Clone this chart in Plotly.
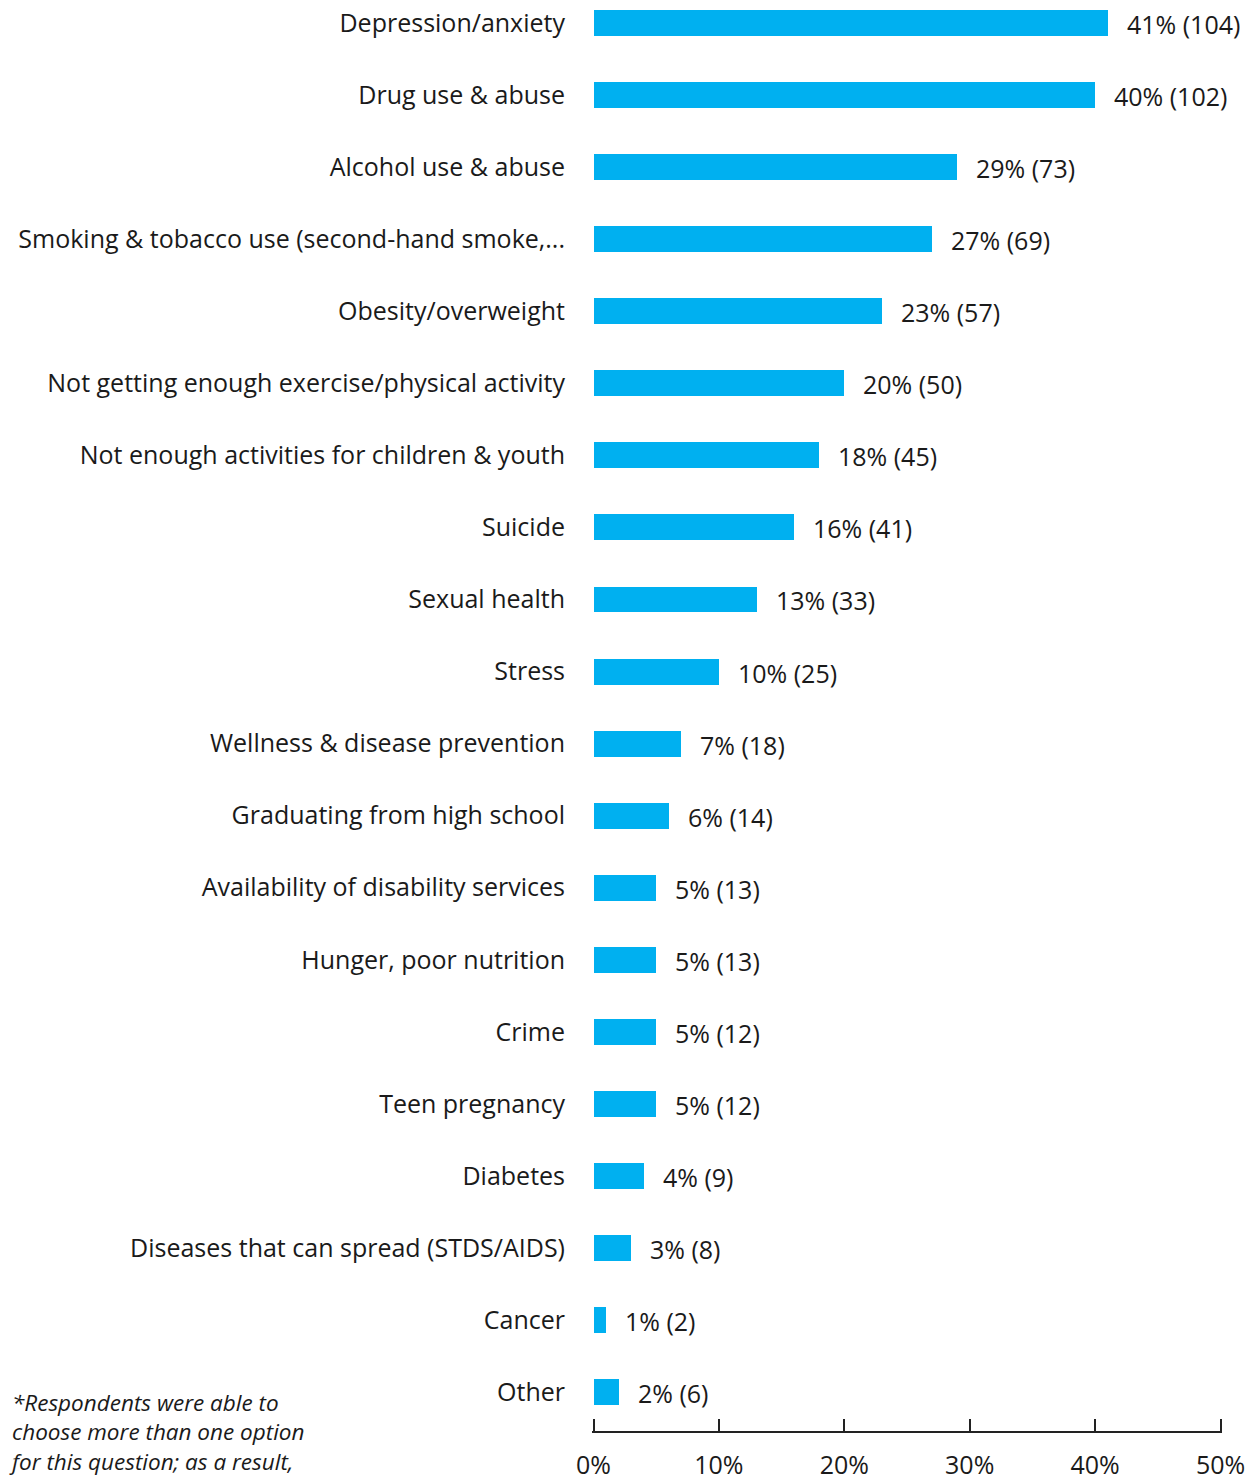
import plotly.graph_objects as go

# Health concerns, listed top to bottom
categories = [
    "Depression/anxiety",
    "Drug use & abuse",
    "Alcohol use & abuse",
    "Smoking & tobacco use (second-hand smoke,...",
    "Obesity/overweight",
    "Not getting enough exercise/physical activity",
    "Not enough activities for children & youth",
    "Suicide",
    "Sexual health",
    "Stress",
    "Wellness & disease prevention",
    "Graduating from high school",
    "Availability of disability services",
    "Hunger, poor nutrition",
    "Crime",
    "Teen pregnancy",
    "Diabetes",
    "Diseases that can spread (STDS/AIDS)",
    "Cancer",
    "Other",
]
percents = [41, 40, 29, 27, 23, 20, 18, 16, 13, 10, 7, 6, 5, 5, 5, 5, 4, 3, 1, 2]
counts = [104, 102, 73, 69, 57, 50, 45, 41, 33, 25, 18, 14, 13, 13, 12, 12, 9, 8, 2, 6]

x_ticks = [0, 10, 20, 30, 40, 50]
x_ticklabels = ["0%", "10%", "20%", "30%", "40%", "50%"]

footnote = ("<i>*Respondents were able to<br>choose more than one option<br>"
            "for this question; as a result,</i>")

# plot bottom-up so the first category sits at the top
cats_bu = categories[::-1]
pct_bu = percents[::-1]
cnt_bu = counts[::-1]
labels_bu = [f"{p}% ({c})" for p, c in zip(pct_bu, cnt_bu)]
ypos = list(range(len(cats_bu)))

FONT = "Open Sans"
FS = 25
TXT = "#1a1a1a"

fig = go.Figure(
    go.Bar(
        x=pct_bu,
        y=ypos,
        orientation="h",
        width=0.36,
        marker=dict(color="#00B0F0", line=dict(width=0)),
        hoverinfo="skip",
    )
)

# value labels to the right of each bar
for p, yv, lab in zip(pct_bu, ypos, labels_bu):
    fig.add_annotation(
        x=p, y=yv, xref="x", yref="y",
        text=lab, showarrow=False,
        xanchor="left", yanchor="middle",
        xshift=17, yshift=-1,
        font=dict(family=FONT, size=FS, color=TXT),
    )

fig.update_layout(
    width=1254,
    height=1481,
    margin=dict(l=592, r=32, t=0, b=50),
    paper_bgcolor="white",
    plot_bgcolor="white",
    showlegend=False,
    bargap=0,
    font=dict(family=FONT, size=FS, color=TXT),
    xaxis=dict(
        range=[-0.12, 50.12],
        tickvals=x_ticks,
        ticktext=x_ticklabels,
        ticks="inside",
        ticklen=12,
        tickwidth=2,
        tickcolor="#222222",
        showline=True,
        linecolor="#222222",
        linewidth=2,
        showgrid=False,
        zeroline=False,
        automargin=False,
        ticklabelstandoff=11,
        tickfont=dict(family=FONT, size=FS, color=TXT),
    ),
    yaxis=dict(
        range=[-0.54, 19.32],
        tickvals=ypos,
        ticktext=cats_bu,
        showline=False,
        showgrid=False,
        zeroline=False,
        automargin=False,
        ticks="",
        ticklabelstandoff=26,
        tickfont=dict(family=FONT, size=FS, color=TXT),
    ),
)

fig.add_annotation(
    text=footnote,
    xref="paper", yref="paper",
    x=0, y=0,
    xshift=-585, yshift=-1,
    xanchor="left", yanchor="middle",
    align="left",
    showarrow=False,
    font=dict(family=FONT, size=22.5, color=TXT),
)

fig.write_html("out.html")
